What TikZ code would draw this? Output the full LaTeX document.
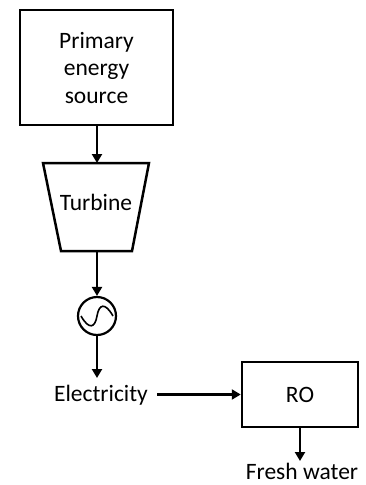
\documentclass[tikz,border=0pt]{standalone}
\usepackage{fontspec}
\setmainfont{Carlito}
\usetikzlibrary{arrows.meta}
\begin{document}
\begin{tikzpicture}[x=1pt,y=-1pt,
  txt/.style={font=\fontsize{23.5}{27.5}\selectfont, inner sep=0pt},
  box/.style={draw, line width=2.5pt, txt, align=center},
  flow/.style={line width=2.2pt, -{Triangle[length=9pt,width=10pt]}}]
\useasboundingbox (0,0) rectangle (366,485);
% primary energy source
\node[box, minimum width=153pt, minimum height=115pt] (pes) at (96.5,67.5) {Primary\\energy\\source};
% turbine
\coordinate (t1) at (43,163);
\coordinate (t2) at (149,163);
\coordinate (t3) at (132,251);
\coordinate (t4) at (61,251);
\draw[line width=2.5pt, line join=miter] (t1) -- (t2) -- (t3) -- (t4) -- cycle;
\coordinate (ttop) at (97,163);
\coordinate (tbot) at (97,251);
\node[txt] (turb) at (96,202) {Turbine};
% generator
\node[draw, circle, line width=2.2pt, minimum size=38pt, inner sep=0pt] (gen) at (97,316) {};
\draw[line width=1.6pt] ([xshift=-16pt]gen.center) .. controls ([xshift=-8pt,yshift=-14pt]gen.center) and ([xshift=-2pt,yshift=-12pt]gen.center) .. (gen.center)
  .. controls ([xshift=2pt,yshift=12pt]gen.center) and ([xshift=8pt,yshift=14pt]gen.center) .. ([xshift=16pt]gen.center);
% electricity
\node[txt, anchor=base] (elec) at (101,401) {Electricity};
\coordinate (elecend) at (97,378);
% RO
\node[box, minimum width=116pt, minimum height=65pt] (ro) at (300,394.5) {RO};
% fresh water
\node[txt, anchor=base] (fw) at (302,479.5) {Fresh water};
\coordinate (fwtop) at (300,461);
% connectors
\draw[flow] (pes.south -| ttop) -- (ttop);
\draw[flow] (tbot) -- (gen.north);
\draw[flow] (gen.south) -- (elecend);
\draw[flow] ([xshift=9pt]elec.east |- ro.west) -- (ro.west);
\draw[flow] (ro.south) -- (fwtop);
\end{tikzpicture}
\end{document}
